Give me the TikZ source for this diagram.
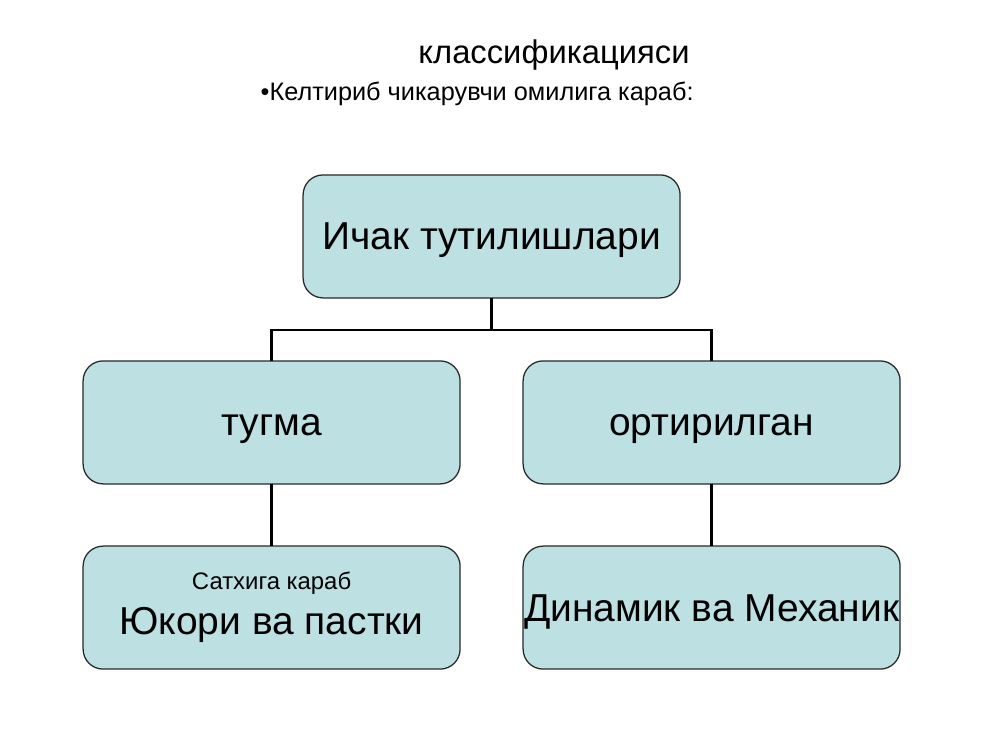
\documentclass[tikz,border=0pt]{standalone}
\usepackage{fontspec}
\setmainfont{Liberation Sans}
\usetikzlibrary{positioning}
\definecolor{boxfill}{RGB}{189,224,227}
\definecolor{boxline}{RGB}{40,40,40}

\begin{document}
\begin{tikzpicture}[outer sep=0pt,
  klass/.style={draw=boxline, line width=0.9pt, fill=boxfill, rounded corners=0.5cm,
    minimum width=9.425cm, minimum height=3.075cm, inner sep=0pt, align=center,
    text height=25.1pt, text depth=5.9pt,
    font=\fontsize{27.7}{31}\selectfont},
  bogl/.style={line width=2pt, black}]

\useasboundingbox (0,0) rectangle (25,-18.75);

\node [anchor=base] at (13.85, -1.575) (sarlavha) {\fontsize{23.3}{27}\selectfont классификацияси};
\node [anchor=base west] at (6.4, -2.5) (izoh) {\fontsize{18}{21}\selectfont •Келтириб чикарувчи омилига караб:};

\node [klass] at (12.29, -5.91) (ichak) {Ичак тутилишлари};
\node [klass] at (6.79, -10.56) (tugma) {тугма};
\node [klass] at (17.79, -10.56) (orttir) {ортирилган};
\node [klass, text height={}, text depth={}] at (6.79, -15.19) (yukori)
  {{\fontsize{17}{19}\selectfont Сатхига караб}\\[1pt]Юкори ва пастки};
\node [klass] at (17.79, -15.19) (dinamik) {Динамик ва Механик};

\coordinate (tugun) at (12.29, -8.25);
\draw [bogl] (ichak.south) -- (tugun);
\draw [bogl] (tugma.north) |- (tugun) -| (orttir.north);
\draw [bogl] (tugma.south) -- (yukori.north);
\draw [bogl] (orttir.south) -- (dinamik.north);
\end{tikzpicture}
\end{document}
